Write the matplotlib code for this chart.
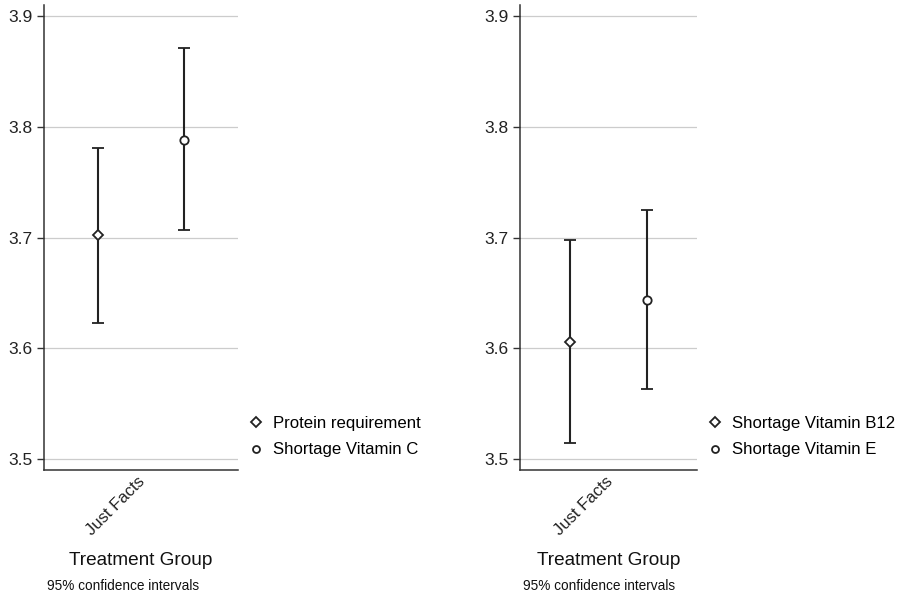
import matplotlib
matplotlib.use("Agg")
import matplotlib.pyplot as plt
import matplotlib.transforms as mtransforms
from matplotlib.lines import Line2D

plt.rcParams['font.family'] = ['Liberation Sans', 'DejaVu Sans']

group = "Just Facts"

# left panel: protein / vitamin C
left_names = ["Protein requirement", "Shortage Vitamin C"]
left_mean = [3.702, 3.788]
left_lo = [3.623, 3.707]
left_hi = [3.781, 3.871]

# right panel: vitamin B12 / vitamin E
right_names = ["Shortage Vitamin B12", "Shortage Vitamin E"]
right_mean = [3.606, 3.644]
right_lo = [3.514, 3.563]
right_hi = [3.698, 3.725]

markers = ["D", "o"]
offsets = [-0.22, 0.22]
yticks = [3.5, 3.6, 3.7, 3.8, 3.9]

W, H = 901, 597
fig = plt.figure(figsize=(W / 100, H / 100), dpi=100)


def panel(x0, x1, names, mean, lo, hi, leg_x):
    ax = fig.add_axes([x0 / W, (H - 470) / H, (x1 - x0) / W, (470 - 5) / H])
    for i in range(2):
        err = [[mean[i] - lo[i]], [hi[i] - mean[i]]]
        ax.errorbar([offsets[i]], [mean[i]], yerr=err, fmt=markers[i],
                    ms=6 if markers[i] == "o" else 5.5, mfc="white", mec="#222222",
                    mew=1.3, ecolor="#222222", elinewidth=1.5, capsize=4,
                    capthick=1.5, zorder=3)
    ax.set_xlim(-0.5, 0.5)
    ax.set_ylim(3.490, 3.910)
    ax.set_yticks(yticks)
    ax.set_yticklabels(["%.1f" % v for v in yticks])
    ax.yaxis.grid(True, color="#cccccc", lw=0.9)
    ax.set_axisbelow(True)
    ax.set_xticks([0])
    ax.set_xticklabels([group], rotation=45, ha="right", va="top")
    ax.tick_params(axis="x", length=0, labelsize=12, pad=3,
                   labelcolor="#222222")
    shift = mtransforms.ScaledTranslation(7 / 100, 0, fig.dpi_scale_trans)
    for lab in ax.get_xticklabels():
        lab.set_transform(lab.get_transform() + shift)
    ax.tick_params(axis="y", length=5, width=1, color="#333333",
                   labelsize=12.5, labelcolor="#222222", pad=3)
    for s in ["top", "right"]:
        ax.spines[s].set_visible(False)
    for s in ["left", "bottom"]:
        ax.spines[s].set_color("#333333")
        ax.spines[s].set_linewidth(1.1)
    ax.set_xlabel("Treatment Group", fontsize=13.7, labelpad=10,
                  color="#111111")
    ax.text(3 / (x1 - x0), -109 / 465, "95% confidence intervals",
            transform=ax.transAxes, fontsize=9.8, color="#111111", va="top")
    handles = [Line2D([], [], ls="none", marker=markers[i],
                      ms=5 if markers[i] == "o" else 5.5, mfc="white",
                      mec="#222222", mew=1.3, label=names[i]) for i in range(2)]
    fig.legend(handles=handles, loc="upper left",
               bbox_to_anchor=(leg_x / W, (H - 416) / H), frameon=False,
               fontsize=12.1, handlelength=0.8, handletextpad=0.65,
               labelspacing=0.68, borderaxespad=0, borderpad=0)
    return ax


panel(44, 238, left_names, left_mean, left_lo, left_hi, 249)
panel(520, 697, right_names, right_mean, right_lo, right_hi, 708)

fig.savefig("out.png", dpi=100)
